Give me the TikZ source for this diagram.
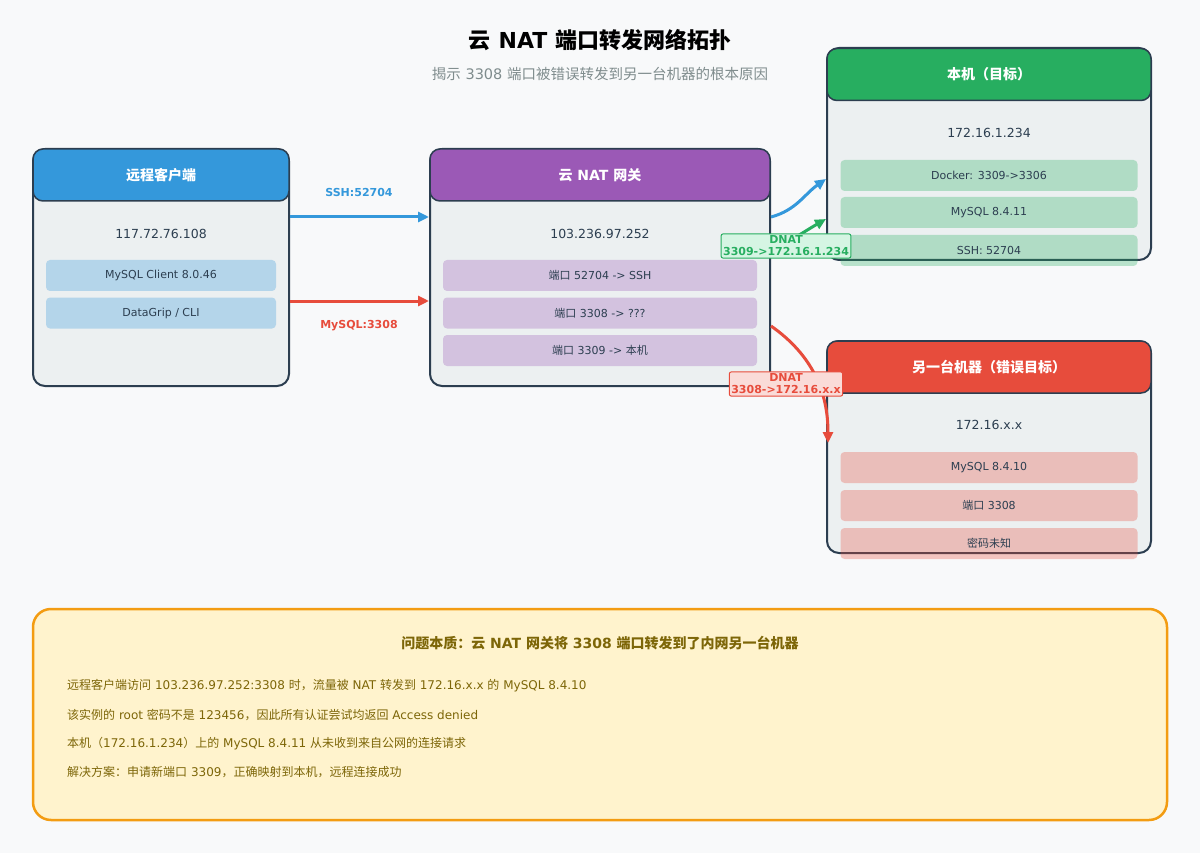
\documentclass[tikz,border=0pt]{standalone}
\usepackage{fontspec}
\setmainfont{DejaVu Sans}
\newfontfamily\cjk{Noto Sans CJK SC}
\newcommand\zh[1]{{\cjk #1}}
\usetikzlibrary{arrows.meta,positioning}

\definecolor{pagebg}{HTML}{F8F9FA}
\definecolor{cardline}{HTML}{2C3E50}
\definecolor{cardbg}{HTML}{ECF0F1}
\definecolor{sshblue}{HTML}{3498DB}
\definecolor{mysqlred}{HTML}{E74C3C}
\definecolor{gwpurple}{HTML}{9B59B6}
\definecolor{hostgreen}{HTML}{27AE60}
\definecolor{subgray}{HTML}{7F8C8D}
\definecolor{notebg}{HTML}{FFF3CD}
\definecolor{noteline}{HTML}{F39C12}
\definecolor{notetext}{HTML}{7D6608}
\definecolor{okbg}{HTML}{D5F5E3}
\definecolor{badbg}{HTML}{FADBD8}

\tikzset{
  card/.style 2 args={draw=cardline, line width=2pt, fill=cardbg, rounded corners=12pt,
    minimum width=#1, minimum height=#2},
  head/.style 2 args={draw=cardline, line width=1.5pt, fill=#1, rounded corners=10pt,
    minimum width=#2, minimum height=52pt, text=white, font=\fontsize{14}{16}\selectfont\bfseries},
  ip/.style={text=cardline, font=\fontsize{12.5}{14}\selectfont},
  item/.style 2 args={fill=#1, fill opacity=.3, text opacity=1, rounded corners=4pt,
    minimum width=#2, minimum height=31pt, text=cardline, font=\fontsize{11}{13}\selectfont},
  flow/.style={line width=3pt, -{Triangle[length=11pt,width=10pt]}},
  flowlbl/.style={font=\fontsize{11}{13}\selectfont\bfseries},
  dnat/.style 2 args={draw=#1, fill=#2, text=#1, line width=1pt, rounded corners=2pt,
    inner sep=2pt, align=center, font=\fontsize{11}{12}\selectfont\bfseries},
  notetxt/.style={text=notetext, anchor=west, inner sep=0pt, font=\fontsize{12}{14}\selectfont}
}

\begin{document}
\begin{tikzpicture}[x=1pt, y=-1pt]
  \fill[pagebg] (0,0) rectangle (1200,853);

  \node (title) at (600,40) {\fontsize{22}{26}\selectfont\bfseries \zh{云} NAT \zh{端口转发网络拓扑}};
  \node[text=subgray] (subtitle) at (600,74) {\fontsize{14.5}{17}\selectfont \zh{揭示} 3308 \zh{端口被错误转发到另一台机器的根本原因}};

  % remote client
  \node[card={256pt}{237pt}] (client) at (161,267.5) {};
  \node[head={sshblue}{256pt}] (clienthead) at (161,175) {\zh{远程客户端}};
  \node[ip] (clientip) at (161,234) {117.72.76.108};
  \node[item={sshblue}{230pt}] (clientmysql) at (161,275.5) {MySQL Client 8.0.46};
  \node[item={sshblue}{230pt}] (clientcli) at (161,313) {DataGrip / CLI};

  % gateway
  \node[card={340pt}{237pt}] (gw) at (600,267.5) {};
  \node[head={gwpurple}{340pt}] (gwhead) at (600,175) {\zh{云} NAT \zh{网关}};
  \node[ip] (gwip) at (600,234) {103.236.97.252};
  \node[item={gwpurple}{314pt}] (gwssh) at (600,275.5) {\zh{端口} 52704 -> SSH};
  \node[item={gwpurple}{314pt}] (gwbad) at (600,313) {\zh{端口} 3308 -> ???};
  \node[item={gwpurple}{314pt}] (gwgood) at (600,350.5) {\zh{端口} 3309 -> \zh{本机}};

  % this host
  \node[card={324pt}{212pt}] (host) at (989,154) {};
  \node[head={hostgreen}{324pt}] (hosthead) at (989,74.5) {\zh{本机（目标）}};
  \node[ip] (hostip) at (989,133) {172.16.1.234};
  \node[item={hostgreen}{297pt}] (hostdocker) at (989,175.5) {Docker: 3309->3306};
  \node[item={hostgreen}{297pt}] (hostmysql) at (989,212.5) {MySQL 8.4.11};
  \node[item={hostgreen}{297pt}] (hostssh) at (989,250.5) {SSH: 52704};

  % wrong machine
  \node[card={324pt}{212pt}] (other) at (989,447) {};
  \node[head={mysqlred}{324pt}] (otherhead) at (989,367) {\zh{另一台机器（错误目标）}};
  \node[ip] (otherip) at (989,425) {172.16.x.x};
  \node[item={mysqlred}{297pt}] (othermysql) at (989,467.5) {MySQL 8.4.10};
  \node[item={mysqlred}{297pt}] (otherport) at (989,505.5) {\zh{端口} 3308};
  \node[item={mysqlred}{297pt}] (otherpwd) at (989,543.5) {\zh{密码未知}};

  % connections
  \draw[flow, sshblue] ([yshift=50.5pt]client.east) -- ([yshift=50.5pt]gw.west);
  \draw[flow, mysqlred] ([yshift=-33.5pt]client.east) -- ([yshift=-33.5pt]gw.west);
  \node[flowlbl, text=sshblue] (sshlbl) at (359,192) {SSH:52704};
  \node[flowlbl, text=mysqlred] (mysqllbl) at (359,326) {MySQL:3308};

  \draw[flow, sshblue] ([yshift=50.5pt]gw.east) to[out=15, in=215] ([yshift=-25pt]host.west);
  \draw[flow, hostgreen] ([yshift=17.5pt]gw.east) to[out=25, in=210] ([yshift=-65pt]host.west);
  \draw[flow, mysqlred] ([yshift=-58.5pt]gw.east) to[out=-35, in=90] ([xshift=2pt, yshift=4pt]other.west);

  \node[dnat={hostgreen}{okbg}] (dnatok) at (786,246) {DNAT\\3309->172.16.1.234};
  \node[dnat={mysqlred}{badbg}] (dnatbad) at (786,384) {DNAT\\3308->172.16.x.x};

  % summary
  \node[draw=noteline, line width=2.5pt, fill=notebg, rounded corners=18pt,
    minimum width=1134pt, minimum height=211pt] (note) at (600,714.5) {};
  \node[text=notetext] (notetitle) at (600,643) {\fontsize{14}{16}\selectfont\bfseries
    \zh{问题本质：云} NAT \zh{网关将} 3308 \zh{端口转发到了内网另一台机器}};
  \node[notetxt] (note1) at (67,686) {\zh{远程客户端访问} 103.236.97.252:3308 \zh{时，流量被} NAT \zh{转发到} 172.16.x.x \zh{的} MySQL 8.4.10};
  \node[notetxt] (note2) at (67,715) {\zh{该实例的} root \zh{密码不是} 123456\zh{，因此所有认证尝试均返回} Access denied};
  \node[notetxt] (note3) at (67,744) {\zh{本机（}172.16.1.234\zh{）上的} MySQL 8.4.11 \zh{从未收到来自公网的连接请求}};
  \node[notetxt] (note4) at (67,772) {\zh{解决方案：申请新端口} 3309\zh{，正确映射到本机，远程连接成功}};
\end{tikzpicture}
\end{document}
